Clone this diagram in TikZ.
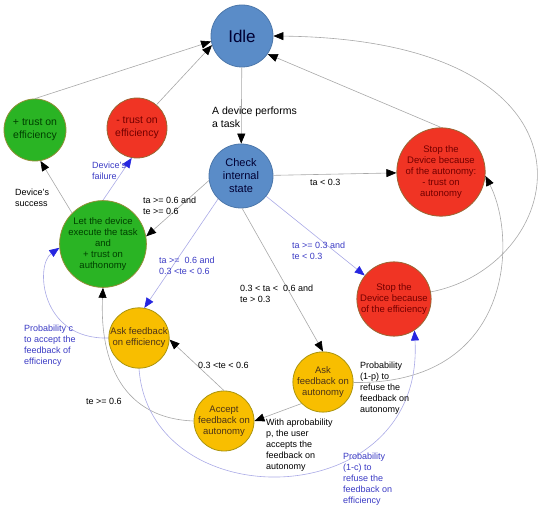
\documentclass[tikz,border=0pt]{standalone}
\usepackage{fontspec}
\setmainfont{Liberation Sans}
\usetikzlibrary{arrows.meta}
\definecolor{stblue}{HTML}{5A8CC8}
\definecolor{stgreen}{HTML}{2AB424}
\definecolor{stred}{HTML}{F03424}
\definecolor{styellow}{HTML}{F8BE00}
\definecolor{lngray}{HTML}{A8A8A8}
\definecolor{lnblue}{HTML}{AAAAE6}
\definecolor{tipblue}{HTML}{2626E0}
\definecolor{lblblue}{HTML}{3A3AC4}
\tikzset{
  state/.style={circle,draw,inner sep=0pt,align=center,line width=0.8pt,font=\fontsize{9.5}{11}\selectfont},
  bstate/.style={state,fill=stblue,draw=stblue!85!black,text=black!80!blue,font=\fontsize{11}{13}\selectfont},
  gstate/.style={state,fill=stgreen,draw=brown!70!stgreen,text=green!25!black},
  rstate/.style={state,fill=stred,draw=brown!80!black,text=red!45!black},
  ystate/.style={state,fill=styellow,draw=orange!60!stgreen,text=brown!40!black},
  edge/.style={draw=lngray,line width=0.6pt,-{Triangle[length=10pt,width=8pt,color=black]}},
  bedge/.style={draw=lnblue,line width=0.6pt,-{Triangle[length=10pt,width=8pt,color=tipblue]}},
  lbl/.style={anchor=west,align=left,inner sep=0pt,font=\fontsize{9}{11}\selectfont},
  blbl/.style={lbl,text=lblblue}
}
\begin{document}
\begin{tikzpicture}[x=1pt,y=-1pt]
\useasboundingbox (0,0) rectangle (550,513);
\def\big{\fontsize{10.5}{13}\selectfont}
% states
\node[bstate,minimum size=62pt,font=\fontsize{17}{20}\selectfont] (idle) at (242,36) {Idle};
\node[bstate,minimum size=64pt] (check) at (241,176) {Check\\internal\\state};
\node[gstate,minimum size=62pt,font=\big] (plusE) at (35,130) {+ trust on\\efficiency};
\node[rstate,minimum size=60pt,font=\big] (minusE) at (137,128) {- trust on\\efficiency};
\node[gstate,minimum size=78pt] (letD) at (103,244) {Let the device\\execute the task\\and\\+ trust on\\authonomy};
\node[rstate,minimum size=76pt] (stopA) at (441,172) {Stop the\\Device because\\of the autonomy:\\- trust on\\autonomy};
\node[rstate,minimum size=74pt] (stopE) at (394,299) {Stop the\\Device because\\of the efficiency};
\node[ystate,minimum size=60pt] (askE) at (139,338) {Ask feedback\\on efficiency};
\node[ystate,minimum size=60pt] (askA) at (323,382) {Ask\\feedback on\\autonomy};
\node[ystate,minimum size=60pt] (accA) at (224,421) {Accept\\feedback on\\autonomy};
% transitions
\draw[edge] (plusE.north) -- (idle.190);
\draw[edge] (minusE.50) -- (idle.197);
\draw[edge] (idle) -- (check);
\draw[edge] (check.188) -- (letD.10);
\draw[edge] (check) -- (stopA);
\draw[bedge] (check) -- (stopE);
\draw[bedge] (check.225) -- (askE.80);
\draw[edge] (check.272) -- (askA.north);
\draw[edge] (letD.135) -- (plusE.-80);
\draw[bedge] (letD.north) -- (minusE.-100);
\draw[edge] (stopA.north) -- (idle.-35);
\draw[edge] (stopE) .. controls (570,265) and (620,40) .. (idle.east);
\draw[edge] (askA) .. controls (512,385) and (518,240) .. (stopA.-5);
\draw[edge] (askA.225) -- (accA.east);
\draw[edge] (accA.north) -- (askE.-3);
\draw[edge] (accA.west) .. controls (115,418) and (100,350) .. (letD.south);
\draw[bedge] (askE.west) .. controls (40,340) and (35,265) .. (letD.185);
\draw[bedge] (askE.south) .. controls (150,520) and (425,515) .. (stopE.-57);
% labels
\node[lbl,font=\big] (perf) at (212,117) {A device performs\\a task};
\node[lbl] (l1) at (143,206) {ta >= 0.6 and\\te >= 0.6};
\node[lbl] (l2) at (310,182) {ta < 0.3};
\node[blbl] (l3) at (292,251) {ta >= 0.3 and\\te < 0.3};
\node[blbl] (l4) at (159,266) {ta >=\ \ 0.6 and\\0.3 <te < 0.6};
\node[lbl] (l5) at (240,294) {0.3 < ta <\ \ 0.6 and\\te > 0.3};
\node[lbl] (l6) at (15,198) {Device's\\success};
\node[blbl] (l7) at (92,171) {Device's\\failure};
\node[blbl] (l8) at (24,346) {Probability c\\to accept the\\feedback of\\efficiency};
\node[lbl] (l9) at (198,365) {0.3 <te < 0.6};
\node[lbl] (l10) at (86,401) {te >= 0.6};
\node[lbl] (l11) at (266,445) {With aprobability\\p, the user\\accepts the\\feedback on\\autonomy};
\node[lbl] (l12) at (360,388) {Probability\\(1-p) to\\refuse the\\feedback on\\autonomy};
\node[blbl] (l13) at (343,479) {Probability\\(1-c) to\\refuse the\\feedback on\\efficiency};
\end{tikzpicture}
\end{document}
